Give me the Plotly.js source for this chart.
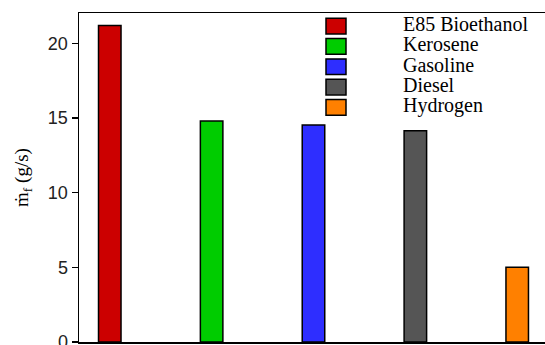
<!DOCTYPE html>
<html>
<head>
<meta charset="utf-8">
<script src="https://cdn.plot.ly/plotly-3.0.1.min.js"></script>
<style>
html, body { margin: 0; padding: 0; overflow: hidden; background: #fff; width: 545px; height: 345px; }
#chart { width: 580px; height: 372px; }
</style>
</head>
<body>
<div id="chart"></div>
<script>
// ---- data ----
var fuels = ["E85 Bioethanol", "Kerosene", "Gasoline", "Diesel", "Hydrogen"];
var fuelFlow = [21.2, 14.8, 14.53, 14.15, 5.0];   // ṁf (g/s)
var colors = ["#cc0000", "#00cc00", "#2e2eff", "#555555", "#ff8000"];
var yTicks = [0, 5, 10, 15, 20];

// ---- geometry (pixels in the figure) ----
var W = 580, H = 372;
var L = 79, T = 13, R = W - 560, B = H - 342;
var plotW = W - L - R, plotH = H - T - B;
function px2paperX(px) { return (px - L) / plotW; }
function py2paperY(py) { return (H - B - py) / plotH; }

var serif = "'Liberation Serif', 'Times New Roman', Times, serif";
var sans = "'Liberation Sans', Arial, Helvetica, sans-serif";

var bars = {
  type: "bar",
  x: fuels,
  y: fuelFlow,
  width: 0.221,
  marker: { color: colors, line: { color: "#000", width: 1.5 } },
  showlegend: false,
  hoverinfo: "x+y"
};

// custom legend built from the arrays (overlay axes measured in pixels)
var shapes = [];
var rowTop = 18.3, rowH = 20.3, swW = 20, swH = 15.7, swX = 326, txtX = 403;
var legX = [], legY = [];
fuels.forEach(function (name, i) {
  var y0 = rowTop + i * rowH;
  shapes.push({
    type: "rect", xref: "paper", yref: "paper",
    x0: px2paperX(swX), x1: px2paperX(swX + swW),
    y0: py2paperY(y0 + swH), y1: py2paperY(y0),
    fillcolor: colors[i], line: { color: "#000", width: 1.5 }
  });
  legX.push(txtX);
  legY.push(y0 + swH / 2);
});
var legendText = {
  type: "scatter", mode: "text",
  x: legX, y: legY, text: fuels,
  textposition: "middle right",
  textfont: { family: serif, size: 20, color: "#000" },
  xaxis: "x2", yaxis: "y2",
  showlegend: false, hoverinfo: "skip", cliponaxis: false
};

var layout = {
  width: W, height: H,
  margin: { l: L, r: R, t: T, b: B, pad: 0 },
  paper_bgcolor: "#fff", plot_bgcolor: "#fff",
  showlegend: false,
  xaxis: {
    type: "category",
    range: [-0.302, 4.42],
    showticklabels: false, ticks: "",
    showgrid: false, zeroline: false,
    showline: true, mirror: true, linecolor: "#000", linewidth: 1.5
  },
  yaxis: {
    range: [0, 22.03],
    tickvals: yTicks,
    ticktext: yTicks.map(String),
    ticks: "outside", ticklen: 6, tickwidth: 1.5, tickcolor: "#000",
    tickfont: { family: sans, size: 18, color: "#222" },
    showgrid: false, zeroline: false,
    showline: true, mirror: true, linecolor: "#000", linewidth: 1.5,
    title: {
      text: "ṁ<sub>f</sub> (g/s)",
      font: { family: serif, size: 19, color: "#000" },
      standoff: 14
    }
  },
  xaxis2: { overlaying: "x", range: [L, W - R], visible: false, fixedrange: true },
  yaxis2: { overlaying: "y", range: [H - B, T], visible: false, fixedrange: true },
  shapes: shapes
};

Plotly.newPlot("chart", [bars, legendText], layout, { displayModeBar: false, staticPlot: true });
</script>
</body>
</html>
